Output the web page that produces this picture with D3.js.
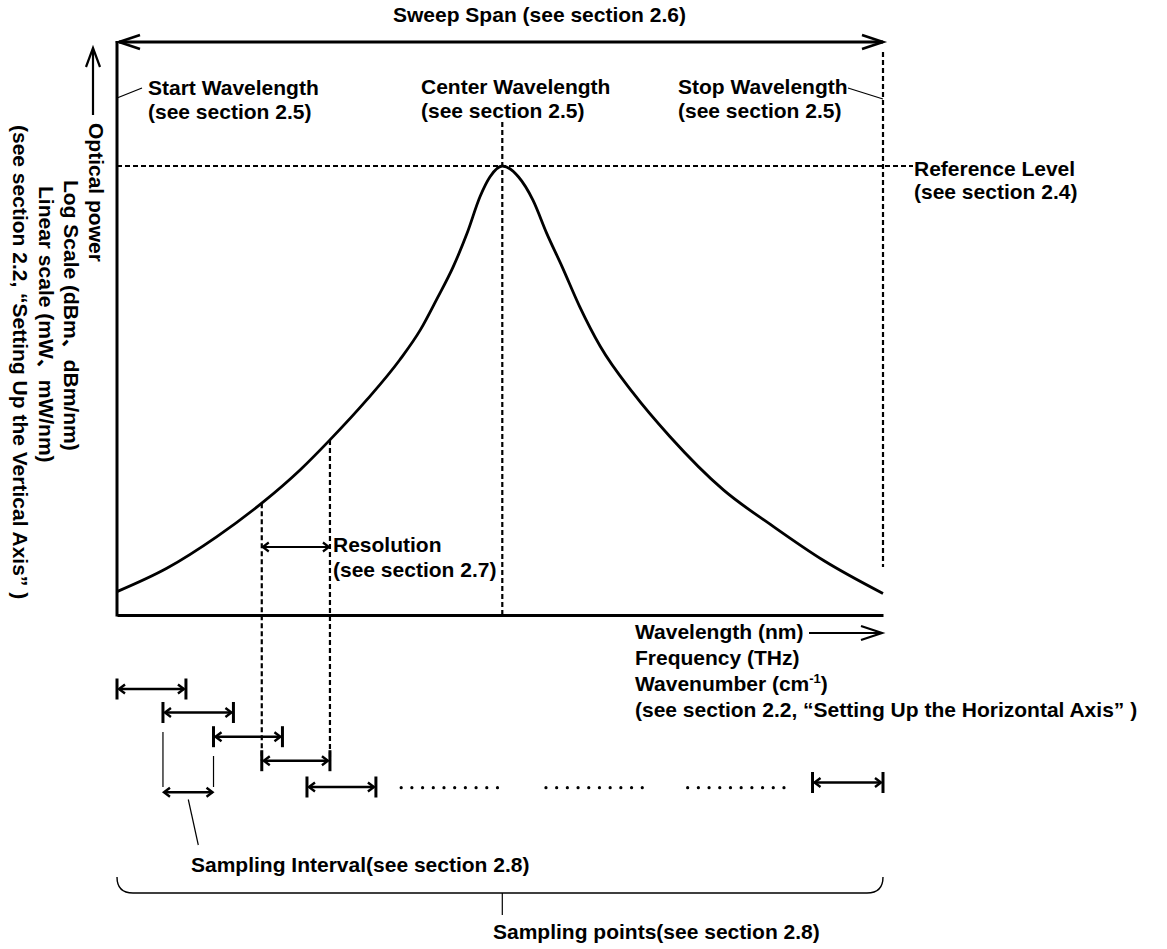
<!DOCTYPE html>
<html>
<head>
<meta charset="utf-8">
<script src="https://cdn.jsdelivr.net/npm/d3@7"></script>
<style>
  html, body { margin: 0; padding: 0; background: #fff; }
  svg { display: block; }
  text {
    font-family: "Liberation Sans", Arial, "Noto Sans CJK JP", sans-serif;
    font-weight: bold;
    font-size: 21px;
    fill: #000;
  }
</style>
</head>
<body>
<svg id="chart" width="1167" height="949"></svg>
<script>
// Spectrum trace: position across the sweep span (%) and optical power (% of reference level)
const traceX     = [0, 6.5, 13.0, 18.9, 23.9, 27.8, 32.6, 36.9, 39.6, 41.7, 43.9, 45.7, 47.4, 48.7, 50.3, 52.4, 54.3, 56.1, 58.1, 60.4, 63.1, 67.4, 72.2, 79.2, 85.7, 92.2, 100];
const tracePower = [5.2, 10.4, 17.4, 24.9, 32.3, 39.0, 47.9, 56.8, 63.5, 70.2, 77.6, 85.0, 93.2, 97.6, 100, 97.6, 92.4, 85.0, 77.6, 68.7, 59.8, 49.4, 39.7, 27.8, 19.7, 12.2, 4.8];

// Sweep markers (% of span) and reference level (% power)
const sweepBounds = [0, 100];
const centerWavelength = 50.3;
const referenceLevel = 100;

// Resolution bandwidth and the staggered sampling intervals (% of span)
const resolutionBand = [18.9, 27.8];
const samplingIntervals = [[0, 9.0], [6.0, 15.2], [12.6, 21.6], [18.9, 27.8], [24.8, 33.8]];
const lastInterval = [90.8, 100];
const intervalExample = [6.0, 12.6];
const ellipsisStarts = [37.1, 56.0, 74.5];

// Label texts
const sweepLabel = "Sweep Span (see section 2.6)";
const startLabel = ["Start Wavelength", "(see section 2.5)"];
const centerLabel = ["Center Wavelength", "(see section 2.5)"];
const stopLabel = ["Stop Wavelength", "(see section 2.5)"];
const refLabel = ["Reference Level", "(see section 2.4)"];
const resLabel = ["Resolution", "(see section 2.7)"];
const xAxisLabel = ["Wavelength (nm)", "Frequency (THz)", "Wavenumber (cm", "(see section 2.2, \u201cSetting Up the Horizontal Axis\u201d )"];
const yAxisLabel = ["Optical power", "Log Scale (dBm\u3001dBm/nm)", "Linear scale (mW\u3001mW/nm)", "(see section 2.2, \u201cSetting Up the Vertical Axis\u201d )"];
const intervalLabel = "Sampling Interval(see section 2.8)";
const pointsLabel = "Sampling points(see section 2.8)";

const trace = traceX.map((v, i) => [v, tracePower[i]]);

const svg = d3.select("#chart");
const x = d3.scaleLinear().domain(sweepBounds).range([117, 883]);
const y = d3.scaleLinear().domain([0, referenceLevel]).range([615, 166]);

const frameTop = 42;

// open chevron arrowhead with tip at (tx,ty), pointing along (dx,dy)
function chevron(g, tx, ty, dx, dy, len, half, sw) {
  const px = -dy, py = dx;
  const bx = tx - dx * len, by = ty - dy * len;
  g.append("path")
    .attr("d", `M${bx + px * half},${by + py * half}L${tx},${ty}L${bx - px * half},${by - py * half}`)
    .attr("fill", "none").attr("stroke", "#000").attr("stroke-width", sw)
    .attr("stroke-linejoin", "miter");
}
function line(g, x1, y1, x2, y2, sw, dash) {
  const l = g.append("line").attr("x1", x1).attr("y1", y1).attr("x2", x2).attr("y2", y2)
    .attr("stroke", "#000").attr("stroke-width", sw);
  if (dash) l.attr("stroke-dasharray", dash);
  return l;
}
function label(g, lines, lx, ly, lh) {
  lines.forEach((t, i) => g.append("text").attr("x", lx).attr("y", ly + i * lh).text(t));
}

const g = svg.append("g");

// axes (domain lines only)
g.append("g").attr("transform", `translate(0,${y(0)})`)
  .call(d3.axisBottom(x).ticks(0).tickSizeOuter(0))
  .select(".domain").attr("stroke-width", 3);
line(g, x(0), frameTop - 1, x(0), y(0) + 1.5, 3);

// sweep span double arrow
line(g, x(0) + 2, frameTop, x(100), frameTop, 3);
chevron(g, x(0) + 2, frameTop, -1, 0, 21, 7, 2.6);
chevron(g, x(100), frameTop, 1, 0, 21, 7, 2.6);
g.append("text").attr("x", 393).attr("y", 22).text(sweepLabel);

// dashed guide lines
const dash = "5,3";
line(g, x(0), y(referenceLevel), 913, y(referenceLevel), 2.2, dash);
line(g, x(centerWavelength), 122, x(centerWavelength), y(0), 2.2, dash);
line(g, x(100), 52, x(100), 567, 2.2, dash);

// spectrum trace
g.append("path").datum(trace)
  .attr("d", d3.line().x(d => x(d[0])).y(d => y(d[1])).curve(d3.curveMonotoneX))
  .attr("fill", "none").attr("stroke", "#000").attr("stroke-width", 2.8);

// wavelength labels with leaders
label(g, startLabel, 148, 95, 24);
line(g, x(0), 98, 142, 88, 1.2);
label(g, centerLabel, 421, 94, 24);
label(g, stopLabel, 678, 94, 24);
line(g, 848, 88, x(100), 99, 1.2);
label(g, refLabel, 914, 176, 23);

// resolution band
const rowY = [689, 712.5, 736.7, 760.7, 787];
resolutionBand.forEach(v => {
  const p = trace.find(d => d[0] === v);
  line(g, x(v), y(p[1]), x(v), rowY[3], 2.2, dash);
});
line(g, x(resolutionBand[0]) + 1, 547, x(resolutionBand[1]) - 1, 547, 2.2);
chevron(g, x(resolutionBand[0]) + 1, 547, -1, 0, 6, 4.5, 2.2);
chevron(g, x(resolutionBand[1]) - 1, 547, 1, 0, 6, 4.5, 2.2);
label(g, resLabel, 333, 552, 25);

// horizontal axis arrow and labels
line(g, 809, 633, 880, 633, 2.2);
chevron(g, 882, 633, 1, 0, 21, 7, 2.2);
xAxisLabel.forEach((t, i) => {
  const tx = g.append("text").attr("x", 635).attr("y", 639 + i * 26).text(t);
  if (i === 2) {
    tx.append("tspan").attr("dy", -8).attr("font-size", 13).text("-1");
    tx.append("tspan").attr("dy", 8).text(")");
  }
});

// vertical axis arrow and rotated labels
line(g, 93, 50, 93, 115, 2.2);
chevron(g, 93, 48, 0, -1, 19, 7, 2.2);
const vStarts = [[89, 123], [63.5, 180], [38.5, 186], [13, 125]];
yAxisLabel.forEach((t, i) => {
  g.append("text").attr("transform", `translate(${vStarts[i][0]},${vStarts[i][1]}) rotate(90)`).text(t);
});

// sampling interval arrows with end bars
function barArrow(a, b, yy) {
  const x1 = x(a), x2 = x(b);
  line(g, x1, yy - 10.5, x1, yy + 10.5, 3);
  line(g, x2, yy - 10.5, x2, yy + 10.5, 3);
  line(g, x1 + 2, yy, x2 - 2, yy, 2.6);
  chevron(g, x1 + 2, yy, -1, 0, 6, 4.5, 2.4);
  chevron(g, x2 - 2, yy, 1, 0, 6, 4.5, 2.4);
}
samplingIntervals.forEach((iv, i) => barArrow(iv[0], iv[1], rowY[i]));
barArrow(lastInterval[0], lastInterval[1], 782.5);

// ellipsis dots between the shown intervals and the last one
ellipsisStarts.forEach(s => {
  d3.range(10).forEach(k => {
    g.append("circle").attr("cx", x(s) + k * 10.7).attr("cy", 787.7).attr("r", 1.6).attr("fill", "#000");
  });
});

// one sampling interval called out
line(g, x(intervalExample[0]), 732, x(intervalExample[0]), 787, 1.2);
line(g, x(intervalExample[1]), 756, x(intervalExample[1]), 787, 1.2);
line(g, x(intervalExample[0]) + 1, 792.3, x(intervalExample[1]) - 1, 792.3, 2.6);
chevron(g, x(intervalExample[0]) + 1, 792.3, -1, 0, 6, 4.5, 2.4);
chevron(g, x(intervalExample[1]) - 1, 792.3, 1, 0, 6, 4.5, 2.4);
line(g, 188.3, 799.5, 198.3, 845, 1.2);
g.append("text").attr("x", 191).attr("y", 872).text(intervalLabel);

// brace spanning all sampling points
const bx0 = x(0), bx1 = x(100);
g.append("path")
  .attr("d", `M${bx0},877 Q${bx0},893 ${bx0 + 16},893 L${bx1 - 16},893 Q${bx1},893 ${bx1},877`)
  .attr("fill", "none").attr("stroke", "#000").attr("stroke-width", 1.4);
line(g, x(centerWavelength), 893, x(centerWavelength), 915, 1.2);
g.append("text").attr("x", 493).attr("y", 939).text(pointsLabel);
</script>
</body>
</html>
